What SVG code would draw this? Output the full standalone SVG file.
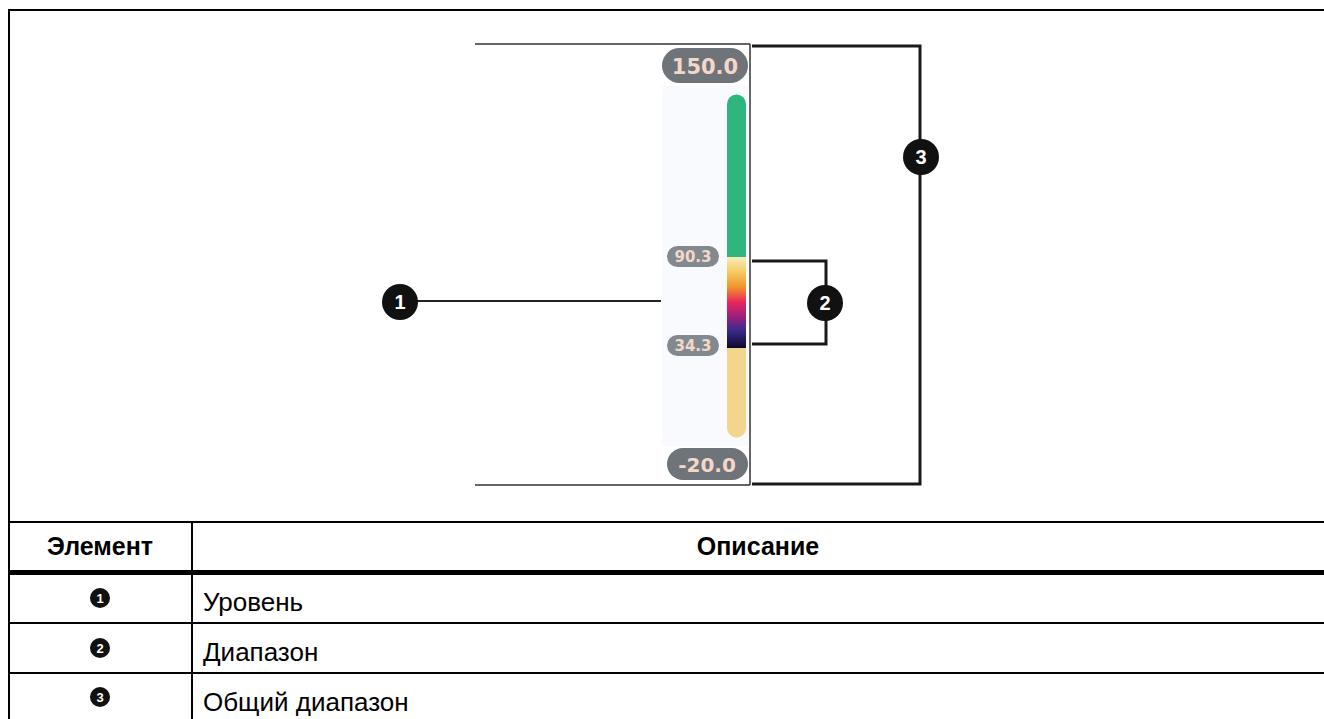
<svg xmlns="http://www.w3.org/2000/svg" width="1324" height="719" viewBox="0 0 1324 719">
<style>
.frame{stroke:#000;stroke-width:2;fill:none}
.brk{stroke:#1a1a1a;stroke-width:3;fill:none}
.thin{stroke:#333;stroke-width:1.5;fill:none}
.lead{stroke:#222;stroke-width:2;fill:none}
.badge{fill:#111}
.bnum{font-family:"Liberation Sans",Arial,sans-serif;font-weight:bold;fill:#fff;text-anchor:middle}
.hdr{font-family:"Liberation Sans",Arial,sans-serif;font-weight:bold;font-size:25px;fill:#000;text-anchor:middle}
.cell{font-family:"Liberation Sans",Arial,sans-serif;font-size:26px;fill:#000}
.pill{fill:#6e7479}
.pilltxt{font-family:"DejaVu Sans",Verdana,sans-serif;font-weight:bold;fill:#f4d7c9;text-anchor:middle}
</style>
<defs>
<linearGradient id="ramp" x1="0" y1="0" x2="0" y2="1">
<stop offset="0" stop-color="#f8ecbc"/>
<stop offset="0.15" stop-color="#f4cf6a"/>
<stop offset="0.32" stop-color="#f19a2c"/>
<stop offset="0.5" stop-color="#e8245c"/>
<stop offset="0.65" stop-color="#a01f7c"/>
<stop offset="0.8" stop-color="#3b2c8c"/>
<stop offset="1" stop-color="#0c0a2e"/>
</linearGradient>
</defs>
<rect width="1324" height="719" fill="#fff"/>

<g id="frame">
<line class="frame" x1="9" y1="10" x2="1324" y2="10"/>
<line class="frame" x1="9" y1="9" x2="9" y2="719"/>
</g>

<g id="scale">
<rect x="662" y="86" width="86" height="360" fill="#f9fafd"/>
<line class="thin" x1="475" y1="44" x2="750" y2="44"/>
<line class="thin" x1="475" y1="485" x2="750" y2="485"/>
<line class="thin" x1="750" y1="44" x2="750" y2="485"/>
<path d="M727,104 a9.5,9.5 0 0 1 19,0 V257 H727 Z" fill="#2fb67f"/>
<rect x="727" y="257" width="19" height="91" fill="url(#ramp)"/>
<path d="M727,348 H746 V428 a9.5,9.5 0 0 1 -19,0 Z" fill="#f2d68e"/>
<rect x="662" y="48" width="86" height="35" rx="17.5" class="pill"/>
<text x="705" y="74" font-size="21" class="pilltxt">150.0</text>
<rect x="667" y="246" width="52" height="21" rx="10.5" fill="#838a8f"/>
<text x="693" y="262" font-size="15" class="pilltxt" fill="#e6dcd6">90.3</text>
<rect x="667" y="335" width="52" height="21" rx="10.5" fill="#838a8f"/>
<text x="693" y="351" font-size="15" class="pilltxt" fill="#e6dcd6">34.3</text>
<rect x="667" y="448" width="81" height="32" rx="16" class="pill"/>
<text x="707" y="472" font-size="20" class="pilltxt">-20.0</text>
</g>

<g id="connectors">
<line class="lead" x1="416" y1="301" x2="661" y2="301"/>
<path class="brk" d="M752,261 H826 V344 H752"/>
<path class="brk" d="M752,46 H920 V484 H752"/>
</g>

<g id="callout1">
<circle class="badge" cx="400" cy="302" r="18"/>
<text x="400" y="309" font-size="20" class="bnum">1</text>
</g>
<g id="callout2">
<circle class="badge" cx="825" cy="303" r="18"/>
<text x="825" y="310" font-size="20" class="bnum">2</text>
</g>
<g id="callout3">
<circle class="badge" cx="921" cy="157" r="18"/>
<text x="921" y="164" font-size="20" class="bnum">3</text>
</g>

<g id="table">
<line class="frame" x1="9" y1="522" x2="1324" y2="522"/>
<rect x="9" y="570" width="1315" height="5" fill="#000"/>
<line class="frame" x1="9" y1="623" x2="1324" y2="623"/>
<line class="frame" x1="9" y1="673" x2="1324" y2="673"/>
<line class="frame" x1="192" y1="522" x2="192" y2="719"/>
<text x="100" y="555" class="hdr">Элемент</text>
<text x="758" y="555" class="hdr">Описание</text>
<circle class="badge" cx="100" cy="598" r="10"/>
<text x="100" y="602.5" font-size="13" class="bnum">1</text>
<text x="203" y="611" class="cell">Уровень</text>
<circle class="badge" cx="100" cy="648" r="10"/>
<text x="100" y="652.5" font-size="13" class="bnum">2</text>
<text x="203" y="661" class="cell">Диапазон</text>
<circle class="badge" cx="100" cy="697" r="10"/>
<text x="100" y="701.5" font-size="13" class="bnum">3</text>
<text x="203" y="711" class="cell">Общий диапазон</text>
</g>
</svg>
